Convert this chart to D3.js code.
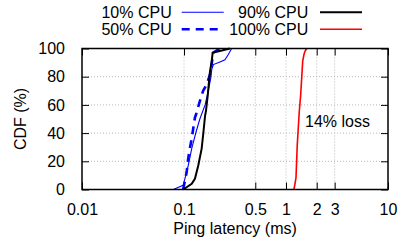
<!DOCTYPE html>
<html>
<head>
<meta charset="utf-8">
<script src="https://cdn.jsdelivr.net/npm/d3@7"></script>
<style>
body { margin: 0; background: #fff; }
text { font-family: "Liberation Sans", Arial, sans-serif; font-size: 16px; fill: #000; }
</style>
</head>
<body>
<svg id="graph" width="399" height="245"></svg>
<script>
// latency (ms) and cdf (%) pairs
var cpu10Lat = [0.0786, 0.098, 0.102, 0.110, 0.119, 0.131, 0.143, 0.161, 0.173, 0.183, 0.187, 0.194, 0.225, 0.252, 0.272, 0.293];
var cpu10Cdf = [0, 3, 7.6, 17, 29, 40.6, 50, 60, 70, 79, 85, 88.6, 90.5, 92, 95.7, 100];

var cpu50Lat = [0.098, 0.102, 0.106, 0.110, 0.114, 0.119, 0.123, 0.128, 0.131, 0.143, 0.154, 0.167, 0.180, 0.187, 0.193, 0.225];
var cpu50Cdf = [0, 6, 12, 22, 29, 36, 43, 51, 53, 62.6, 70, 74.5, 81.6, 89, 97, 100];

var cpu90Lat = [0.0984, 0.106, 0.119, 0.128, 0.138, 0.149, 0.155, 0.161, 0.164, 0.171, 0.176, 0.180, 0.187, 0.191, 0.282];
var cpu90Cdf = [0, 1.6, 4, 7.6, 17, 29, 40.6, 52.5, 55.5, 67, 77, 84, 91, 97, 100];

var cpu100Lat = [1.197, 1.253, 1.29, 1.35, 1.393, 1.425, 1.458, 1.50, 1.535, 1.596];
var cpu100Cdf = [0, 8.3, 32, 55.5, 67, 79, 91, 95.7, 98, 100];

var xTicks = [0.01, 0.1, 0.5, 1, 2, 3, 10];
var xTickLabels = ["0.01", "0.1", "0.5", "1", "2", "3", "10"];
var yTicks = [0, 20, 40, 60, 80, 100];

var seriesNames = ["10% CPU", "50% CPU", "90% CPU", "100% CPU"];

// note: "top" is taken by window.top, so plot edges get their own names
var pLeft = 82, pRight = 388, pTop = 48.5, pBottom = 189.5;

var svg = d3.select("#graph");

var x = d3.scaleLog().domain([0.01, 10]).range([pLeft, pRight]);
var y = d3.scaleLinear().domain([0, 100]).range([pBottom, pTop]);

// dotted grid
svg.append("g")
    .selectAll("line")
    .data(xTicks.filter(function(d) { return d > 0.01 && d < 10; }))
    .enter()
    .append("line")
    .attr("x1", function(d) { return x(d); })
    .attr("x2", function(d) { return x(d); })
    .attr("y1", pTop)
    .attr("y2", pBottom)
    .attr("stroke", "#b8b8b8")
    .attr("stroke-width", 1)
    .attr("stroke-dasharray", "1,2");

svg.append("g")
    .selectAll("line")
    .data(yTicks.filter(function(d) { return d > 0 && d < 100; }))
    .enter()
    .append("line")
    .attr("x1", pLeft)
    .attr("x2", pRight)
    .attr("y1", function(d) { return y(d); })
    .attr("y2", function(d) { return y(d); })
    .attr("stroke", "#b8b8b8")
    .attr("stroke-width", 1)
    .attr("stroke-dasharray", "1,2");

// axes with inward ticks
var xAxis = d3.axisBottom(x).tickValues(xTicks).tickSizeInner(-7).tickSizeOuter(0)
    .tickFormat(function(d, i) { return xTickLabels[i]; }).tickPadding(14);
var xAxisTop = d3.axisTop(x).tickValues(xTicks).tickSizeInner(-7).tickSizeOuter(0).tickFormat("");
var yAxis = d3.axisLeft(y).tickValues(yTicks).tickSizeInner(-7).tickSizeOuter(0).tickPadding(17);
var yAxisRight = d3.axisRight(y).tickValues(yTicks).tickSizeInner(-7).tickSizeOuter(0).tickFormat("");

function styleAxis(g) {
    g.select(".domain").remove();
    g.selectAll(".tick line").attr("stroke", "#000").attr("stroke-width", 1);
    g.selectAll("text").attr("font-size", 16).attr("font-family", "Liberation Sans, Arial, sans-serif").attr("fill", "#000");
}

svg.append("g").attr("transform", "translate(0," + pBottom + ")").call(xAxis).call(styleAxis);
svg.append("g").attr("transform", "translate(0," + pTop + ")").call(xAxisTop).call(styleAxis);
svg.append("g").attr("transform", "translate(" + pLeft + ",0)").call(yAxis).call(styleAxis);
svg.append("g").attr("transform", "translate(" + pRight + ",0)").call(yAxisRight).call(styleAxis);

// curves
var line = d3.line()
    .x(function(d) { return x(d[0]); })
    .y(function(d) { return y(d[1]); });

function pairs(a, b) {
    return a.map(function(v, i) { return [v, b[i]]; });
}

var series = [
    {name: seriesNames[0], pts: pairs(cpu10Lat, cpu10Cdf), color: "#0000ff", width: 1.1, dash: null},
    {name: seriesNames[1], pts: pairs(cpu50Lat, cpu50Cdf), color: "#0000ff", width: 2.6, dash: "8,6"},
    {name: seriesNames[2], pts: pairs(cpu90Lat, cpu90Cdf), color: "#000000", width: 2, dash: null},
    {name: seriesNames[3], pts: pairs(cpu100Lat, cpu100Cdf), color: "#ff0000", width: 1.6, dash: null}
];

svg.append("g")
    .selectAll("path")
    .data(series)
    .enter()
    .append("path")
    .attr("d", function(d) { return line(d.pts); })
    .attr("fill", "none")
    .attr("stroke", function(d) { return d.color; })
    .attr("stroke-width", function(d) { return d.width; })
    .attr("stroke-dasharray", function(d) { return d.dash; });

// frame
svg.append("rect")
    .attr("x", pLeft)
    .attr("y", pTop)
    .attr("width", pRight - pLeft)
    .attr("height", pBottom - pTop)
    .attr("fill", "none")
    .attr("stroke", "#000")
    .attr("stroke-width", 1.5);

// annotation
svg.append("text")
    .attr("x", 305)
    .attr("y", 126.5)
    .text("14% loss");

// axis titles
svg.append("text")
    .attr("x", (pLeft + pRight) / 2)
    .attr("y", 234)
    .attr("text-anchor", "middle")
    .text("Ping latency (ms)");

svg.append("text")
    .attr("transform", "translate(26," + ((pTop + pBottom) / 2) + ") rotate(-90)")
    .attr("text-anchor", "middle")
    .text("CDF (%)");

// legend, two columns
var legendPos = [
    {tx: 171.7, ty: 17.5, lx: 181.7, ly: 12.3},
    {tx: 171.7, ty: 35, lx: 181.7, ly: 29.3},
    {tx: 308.3, ty: 17.5, lx: 320, ly: 12.3},
    {tx: 308.3, ty: 35, lx: 320, ly: 29.3}
];

var leg = svg.append("g")
    .selectAll("g")
    .data(series)
    .enter()
    .append("g");

leg.append("text")
    .attr("x", function(d, i) { return legendPos[i].tx; })
    .attr("y", function(d, i) { return legendPos[i].ty; })
    .attr("text-anchor", "end")
    .text(function(d) { return d.name; });

leg.append("line")
    .attr("x1", function(d, i) { return legendPos[i].lx; })
    .attr("x2", function(d, i) { return legendPos[i].lx + 42; })
    .attr("y1", function(d, i) { return legendPos[i].ly; })
    .attr("y2", function(d, i) { return legendPos[i].ly; })
    .attr("stroke", function(d) { return d.color; })
    .attr("stroke-width", function(d) { return d.width; })
    .attr("stroke-dasharray", function(d) { return d.dash; });
</script>
</body>
</html>
